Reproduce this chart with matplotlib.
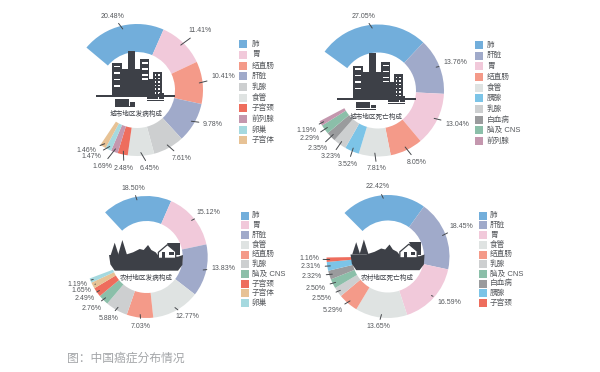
import math
import matplotlib
matplotlib.use("Agg")
import matplotlib.pyplot as plt
from matplotlib.patches import Rectangle, Polygon

plt.rcParams['font.family'] = ['Liberation Sans', 'Noto Sans CJK SC']

# ---- data ----
cats_urban_inc = ['肺', '胃', '结直肠', '肝脏', '乳腺', '食管', '子宫颈', '前列腺', '卵巢', '子宫体']
vals_urban_inc = [20.48, 11.41, 10.41, 9.78, 7.61, 6.45, 2.48, 1.69, 1.47, 1.46]
cats_urban_mort = ['肺', '肝脏', '胃', '结直肠', '食管', '胰腺', '乳腺', '白血病', '脑及 CNS', '前列腺']
vals_urban_mort = [27.05, 13.76, 13.04, 8.05, 7.81, 3.52, 3.23, 2.35, 2.29, 1.19]
cats_rural_inc = ['肺', '胃', '肝脏', '食管', '结直肠', '乳腺', '脑及 CNS', '子宫颈', '子宫体', '卵巢']
vals_rural_inc = [18.50, 15.12, 13.83, 12.77, 7.03, 5.88, 2.76, 2.49, 1.65, 1.19]
cats_rural_mort = ['肺', '肝脏', '胃', '食管', '结直肠', '乳腺', '脑及 CNS', '白血病', '胰腺', '子宫颈']
vals_rural_mort = [22.42, 18.45, 16.59, 13.65, 5.29, 2.55, 2.50, 2.32, 2.31, 1.16]
titles = ['城市地区发病构成', '城市地区死亡构成', '农村地区发病构成', '农村地区死亡构成']
caption = '图：中国癌症分布情况'

# ---- styles ----
colors = {'肺': '#72aedb', '胃': '#f1c9da', '结直肠': '#f49a89', '肝脏': '#a0aaca', '乳腺': '#cdcfd0',
          '食管': '#dfe3e2', '子宫颈': '#ee6d5d', '前列腺': '#c497ae', '卵巢': '#a5d9df', '子宫体': '#e7c295',
          '胰腺': '#7cc4e7', '白血病': '#9a9b9d', '脑及 CNS': '#8bbfa9'}
DARK = '#3d4047'
TXT = '#55585c'

W, H = 600, 372
fig = plt.figure(figsize=(W / 100, H / 100), dpi=100, facecolor='white')

panels = [
    dict(c=cats_urban_inc, v=vals_urban_inc, cx=137, cy=90, r=66, start=140, hole=38,
         lab=[(113, 16), (200, 31), (223, 77), (213, 124), (182, 158), (150, 168), (124, 168), (102, 166), (91, 157), (86, 151)],
         sw=239, tx=252, ly=44.3, step=10.67, tp=(136, 114), icon=('city', 136, 96)),
    dict(c=cats_urban_mort, v=vals_urban_mort, cx=378, cy=90.5, r=66, start=144, hole=38,
         lab=[(364, 16), (455, 63), (457, 124), (417, 162), (377, 169), (348, 164), (331, 157), (318, 149), (310, 139), (306, 131)],
         sw=475, tx=487, ly=45, step=10.67, tp=(376, 117), icon=('city', 377, 98.7)),
    dict(c=cats_rural_inc, v=vals_rural_inc, cx=146.7, cy=257, r=61, start=133, hole=36,
         lab=[(133, 188), (208, 212), (223, 268), (187, 317), (141, 326), (109, 318), (92, 308), (85, 299), (81, 291), (77, 284)],
         sw=241, tx=252, ly=215.7, step=9.7, tp=(146, 278), icon=('village', 146, 262)),
    dict(c=cats_rural_mort, v=vals_rural_mort, cx=388, cy=256.5, r=61.5, start=135, hole=36,
         lab=[(378, 187), (461, 226), (449, 303), (378, 327), (333, 311), (322, 298), (316, 288), (312, 276), (311, 267), (309, 259)],
         sw=479, tx=490, ly=215.7, step=9.7, tp=(387, 278), icon=('village', 387.5, 261.5)),
]

ov = fig.add_axes([0, 0, 1, 1], zorder=5)
ov.set_xlim(0, W)
ov.set_ylim(H, 0)
ov.axis('off')
ov.patch.set_alpha(0)


def city(ox, oy):
    def rect(x0, y0, x1, y1, col=DARK):
        ov.add_patch(Rectangle((ox + x0, oy + y0), x1 - x0, y1 - y0, fc=col, ec='none'))
    for b in [(-23.7, -32.7, -14.3, 0), (-14.3, -26.7, 4, 0), (-7.7, -45.3, -1, 0),
              (4, -36.7, 13.3, 0), (13.3, -17, 16.7, 0), (16.7, -24.3, 26.3, 0)]:
        rect(*b)
    for y in (-30.5, -24, -17.5, -11):
        rect(-22, y, -16, y + 1.8, 'white')
    for y in (-34, -28, -22, -18):
        rect(5.5, y, 12, y + 1.8, 'white')
    for i in range(6):
        for x in (18.5, 22):
            rect(x, -22 + i * 3.6, x + 1.8, -20.4 + i * 3.6, 'white')
    rect(-40, -1, 39, 1)
    # trucks
    rect(-21, 3.3, -7, 9.5)
    rect(-6.5, 6, -1, 9.5)
    rect(-21, 10, -1, 11)
    rect(10.7, 0, 22, 3.4)
    rect(22.5, -3, 28, 3.4)
    rect(11, 3.8, 28, 5)


def village(ox, oy):
    def P(pts, **kw):
        ov.add_patch(Polygon([(ox + x / 3 - 106.3, oy + y / 3 - 87) for x, y in pts], closed=True, **kw))
    P([(208, 240), (212, 268), (225, 287), (415, 287), (428, 270), (430, 240), (415, 245), (360, 247),
       (348, 232), (335, 225), (325, 210), (312, 225), (300, 222), (280, 232), (255, 240)], fc=DARK, ec='none')
    P([(225, 203), (213, 240), (237, 240)], fc=DARK, ec='none')
    P([(248, 195), (235, 240), (262, 240)], fc=DARK, ec='none')
    P([(383, 203), (420, 203), (420, 240), (400, 240)], fc=DARK, ec='none')
    P([(356, 232), (383, 209), (408, 230), (408, 250), (356, 250)], fc='white', ec=DARK, lw=0.9)
    P([(367, 232), (377, 232), (377, 250), (367, 250)], fc=DARK, ec='none')
    P([(388, 232), (402, 232), (402, 241), (388, 241)], fc=DARK, ec='none')


for p in panels:
    r = p['r']
    ax = fig.add_axes([(p['cx'] - r) / W, 1 - (p['cy'] + r) / H, 2 * r / W, 2 * r / H])
    fr = [x / 100 for x in p['v']]
    ax.pie(fr, colors=[colors[k] for k in p['c']], startangle=p['start'], counterclock=False,
           normalize=False, radius=1, wedgeprops=dict(width=1 - p['hole'] / r, linewidth=0))
    ax.set_xlim(-1, 1)
    ax.set_ylim(-1, 1)
    ax.axis('off')

    ang = p['start']
    for val, (lx, ly) in zip(p['v'], p['lab']):
        mid = math.radians(ang - val * 3.6 / 2)
        ang -= val * 3.6
        px = p['cx'] + 0.95 * r * math.cos(mid)
        py = p['cy'] - 0.95 * r * math.sin(mid)
        ov.annotate(f'{val:.2f}%', xy=(px, py), xytext=(lx, ly), fontsize=5, color=TXT, ha='center', va='center',
                    arrowprops=dict(arrowstyle='-', color='#45484c', lw=0.7, shrinkA=1, shrinkB=0))

    for i, k in enumerate(p['c']):
        y = p['ly'] + i * p['step']
        ov.add_patch(Rectangle((p['sw'], y - 4), 8, 8, fc=colors[k], ec='none'))
        ov.text(p['tx'], y, k, fontsize=5.5, color=TXT, va='center', ha='left')

    ov.text(p['tp'][0], p['tp'][1], titles[panels.index(p)], fontsize=4.8, color=DARK, ha='center', va='center')
    kind, ox, oy = p['icon']
    (city if kind == 'city' else village)(ox, oy)

ov.text(67, 358.5, caption, fontsize=8.5, color='#a3a5a8', ha='left', va='center')

fig.savefig('out.png', dpi=100, facecolor='white')
